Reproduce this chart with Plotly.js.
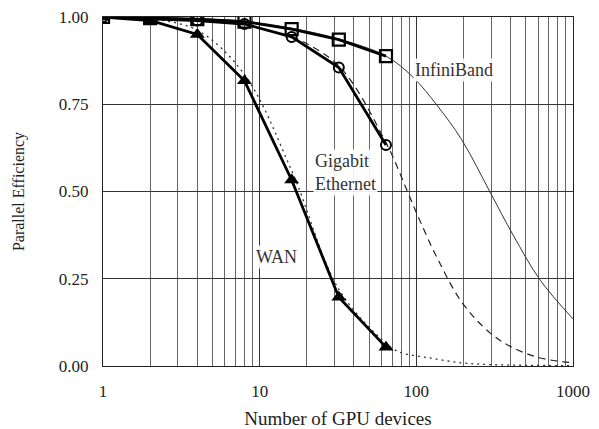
<!DOCTYPE html>
<html><head><meta charset="utf-8">
<script src="https://cdn.plot.ly/plotly-3.0.1.min.js"></script>
<style>html,body{margin:0;padding:0;background:#fff}#chart{width:599px;height:429px}</style>
</head><body><div id="chart"></div>
<script>
// Measured data
const gpus = [1, 2, 4, 8, 16, 32, 64];
const infiniband = [1.00, 0.997, 0.994, 0.987, 0.965, 0.935, 0.888];
const gigabit = [1.00, 0.996, 0.990, 0.980, 0.943, 0.855, 0.633];
const wan = [1.00, 0.990, 0.950, 0.817, 0.533, 0.197, 0.054];

// Model curves
const ibModelN = [1, 2, 4, 8, 16, 32, 64, 95, 135, 195, 295, 415, 618, 1000];
const ibModelE = [1.00, 0.998, 0.995, 0.988, 0.968, 0.937, 0.888, 0.828, 0.748, 0.648, 0.499, 0.375, 0.246, 0.135];
const geModelN = [16, 32, 64, 87, 105, 135, 195, 295, 415, 618, 1000];
const geModelE = [0.945, 0.860, 0.640, 0.504, 0.418, 0.312, 0.183, 0.095, 0.052, 0.023, 0.009];
const wanModelN = [2, 4, 8, 16, 32, 64, 78, 122, 195, 300, 500, 1000];
const wanModelE = [0.995, 0.962, 0.835, 0.560, 0.220, 0.065, 0.040, 0.023, 0.009, 0.004, 0.002, 0.001];

const xTicks = [1, 10, 100, 1000];
const xTickText = ['1', '10', '100', '1000'];
const yTicks = [0, 0.25, 0.5, 0.75, 1.0];
const yTickText = ['0.00', '0.25', '0.50', '0.75', '1.00'];

const minorVals = [];
[1, 10, 100].forEach(d => { for (let k = 2; k <= 9; k++) minorVals.push(k * d); });

const serif = 'Liberation Serif, Times New Roman, serif';

const traces = [
  {x: ibModelN, y: ibModelE, mode: 'lines', line: {color: '#333', width: 1, shape: 'spline'}, hoverinfo: 'skip'},
  {x: geModelN, y: geModelE, mode: 'lines', line: {color: '#222', width: 1.2, dash: '7px,5px', shape: 'spline'}, hoverinfo: 'skip'},
  {x: wanModelN, y: wanModelE, mode: 'lines', line: {color: '#333', width: 1.3, dash: '2px,4px', shape: 'spline'}, hoverinfo: 'skip'},
  {x: gpus, y: infiniband, mode: 'lines+markers', line: {color: '#000', width: 2.8},
   marker: {symbol: 'square-open', size: 12, color: '#000', line: {width: 2.2, color: '#000'}}},
  {x: gpus, y: gigabit, mode: 'lines+markers', line: {color: '#000', width: 2.8},
   marker: {symbol: 'circle-open', size: 10, color: '#000', line: {width: 2, color: '#000'}}},
  {x: gpus, y: wan, mode: 'lines+markers', line: {color: '#000', width: 2.8},
   marker: {symbol: 'triangle-up', size: 13, color: '#000'}}
];

const layout = {
  width: 599, height: 429,
  margin: {l: 103, r: 26, t: 17, b: 63},
  paper_bgcolor: '#fff', plot_bgcolor: '#fff',
  showlegend: false,
  font: {family: serif, size: 17, color: '#222'},
  xaxis: {
    type: 'log', range: [0, 3],
    tickmode: 'array', tickvals: xTicks, ticktext: xTickText,
    showgrid: true, gridcolor: '#333', gridwidth: 1,
    minor: {tickmode: 'array', tickvals: minorVals, showgrid: true, gridcolor: '#666', gridwidth: 1, ticklen: 0},
    showline: true, linecolor: '#222', linewidth: 1, mirror: true,
    ticks: '', zeroline: false, ticklabelstandoff: 10,
    tickfont: {family: serif, size: 17, color: '#222'},
    title: {text: 'Number of GPU devices', font: {family: serif, size: 19, color: '#222'}, standoff: 12}
  },
  yaxis: {
    range: [0, 1.0],
    tickmode: 'array', tickvals: yTicks, ticktext: yTickText,
    showgrid: true, gridcolor: '#333', gridwidth: 1,
    showline: true, linecolor: '#222', linewidth: 1, mirror: true,
    ticks: '', zeroline: false, ticklabelstandoff: 10,
    tickfont: {family: serif, size: 17, color: '#222'},
    title: {text: 'Parallel Efficiency', font: {family: serif, size: 16, color: '#222'}, standoff: 30}
  },
  annotations: [
    {x: 2.24, y: 0.848, xref: 'x', yref: 'y', text: 'InfiniBand', showarrow: false,
     font: {family: serif, size: 18, color: '#333'}, bgcolor: 'rgba(255,255,255,0.9)'},
    {x: 1.34, y: 0.555, xref: 'x', yref: 'y', text: 'Gigabit<br>Ethernet', showarrow: false, xanchor: 'left', align: 'left',
     font: {family: serif, size: 18, color: '#333'}, bgcolor: 'rgba(255,255,255,0.9)'},
    {x: 1.11, y: 0.312, xref: 'x', yref: 'y', text: 'WAN', showarrow: false,
     font: {family: serif, size: 18, color: '#333'}, bgcolor: 'rgba(255,255,255,0.9)'}
  ]
};

Plotly.newPlot('chart', traces, layout, {staticPlot: true, displayModeBar: false});
</script>
</body></html>
